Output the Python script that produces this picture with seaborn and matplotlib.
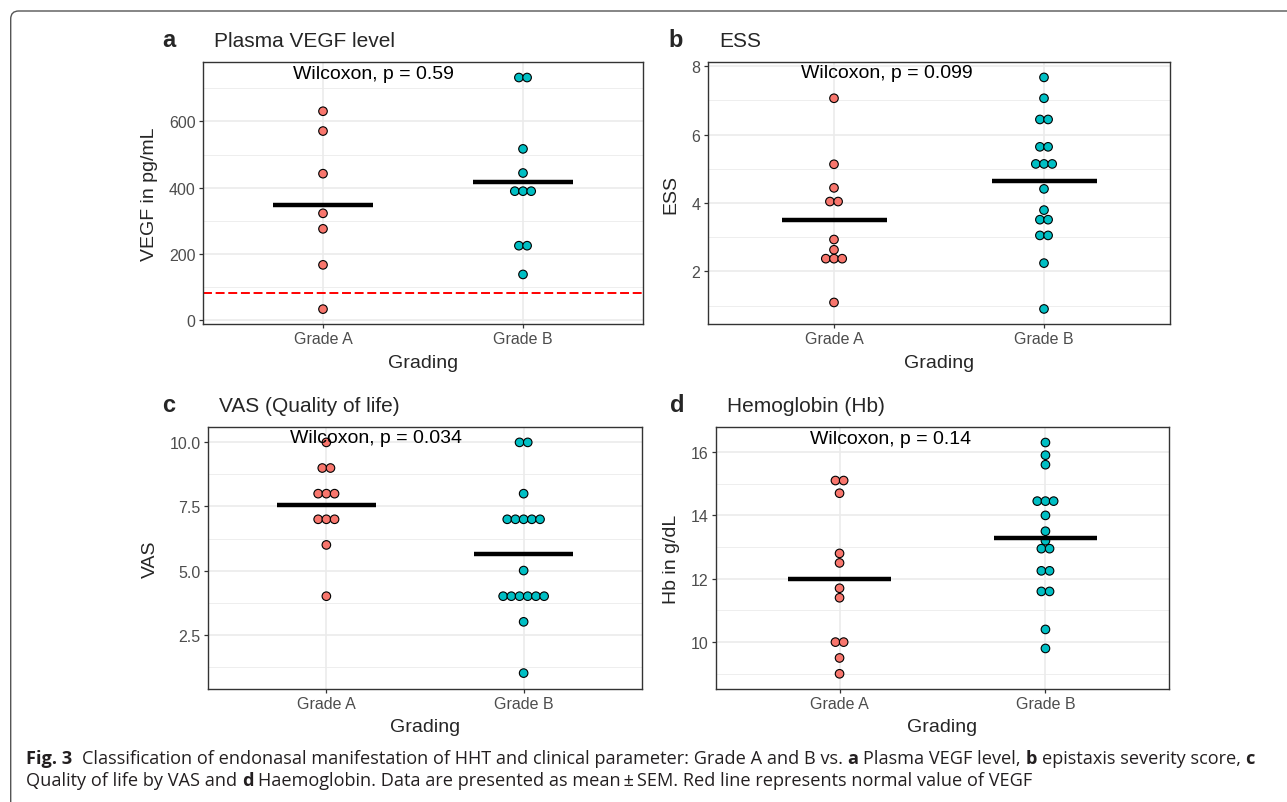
#!/usr/bin/env python3

import matplotlib
matplotlib.use("Agg")
import matplotlib.pyplot as plt
import numpy as np
import pandas as pd
import seaborn as sns
from matplotlib.patches import FancyBboxPatch
from matplotlib.transforms import IdentityTransform

groups = ["Grade A", "Grade B"]
colors = ["#F8766D", "#00BFC4"]

vegf_a = [631, 571, 442, 322, 275, 166, 32]
vegf_b = [733, 733, 517, 444, 389, 389, 389, 224, 224, 137]
ess_a = [7.06, 5.13, 4.44, 4.04, 4.04, 2.93, 2.63, 2.37, 2.37, 2.37, 1.09]
ess_b = [7.67, 7.06, 6.44, 6.44, 5.64, 5.64, 5.14, 5.14, 5.14, 4.41, 3.79,
         3.51, 3.51, 3.05, 3.05, 2.24, 0.90]
vas_a = [10, 9, 9, 8, 8, 8, 7, 7, 7, 6, 4]
vas_b = [10, 10, 8, 7, 7, 7, 7, 7, 5, 4, 4, 4, 4, 4, 4, 3, 1]
hb_a = [15.1, 15.1, 14.7, 12.8, 12.5, 11.7, 11.4, 10.0, 10.0, 9.5, 9.0]
hb_b = [16.3, 15.9, 15.6, 14.45, 14.45, 14.45, 14.0, 13.5, 13.2, 12.95, 12.95,
        12.25, 12.25, 11.6, 11.6, 10.4, 9.8]

p_labels = ["Wilcoxon, p = 0.59", "Wilcoxon, p = 0.099",
            "Wilcoxon, p = 0.034", "Wilcoxon, p = 0.14"]
vegf_normal = 80

W, H = 1287, 803
sns.set_style("white")
plt.rcParams["font.family"] = ["Liberation Sans", "DejaVu Sans"]

fig = plt.figure(figsize=(W / 100, H / 100), dpi=100)


def box(left, top, right, bottom):
    return [left / W, 1 - bottom / H, (right - left) / W, (bottom - top) / H]


def stack_offsets(values, step):
    # centre-stacked dots for tied values, like a dot plot
    values = np.asarray(values, dtype=float)
    out = np.zeros(len(values))
    for v in np.unique(values):
        idx = np.where(values == v)[0]
        n = len(idx)
        out[idx] = (np.arange(n) - (n - 1) / 2) * step
    return out


panels = [
    dict(letter="a", title="Plasma VEGF level", ylabel="VEGF in pg/mL",
         vals=(vegf_a, vegf_b), p=p_labels[0],
         ticks=[0, 200, 400, 600], labels=["0", "200", "400", "600"],
         minor=[100, 300, 500, 700], ylim=(-13, 780),
         rect=(203, 63, 643, 325), ylab_x=150, letter_x=162, title_x=214,
         base_y=47, xlab_y=363),
    dict(letter="b", title="ESS", ylabel="ESS",
         vals=(ess_a, ess_b), p=p_labels[1],
         ticks=[2, 4, 6, 8], labels=["2", "4", "6", "8"],
         minor=[1, 3, 5, 7], ylim=(0.46, 8.12),
         rect=(708, 63, 1170, 325), ylab_x=671, letter_x=668, title_x=719,
         base_y=47, xlab_y=363),
    dict(letter="c", title="VAS (Quality of life)", ylabel="VAS",
         vals=(vas_a, vas_b), p=p_labels[2],
         ticks=[2.5, 5, 7.5, 10], labels=["2.5", "5.0", "7.5", "10.0"],
         minor=[1.25, 3.75, 6.25, 8.75], ylim=(0.38, 10.6),
         rect=(208, 428, 642, 690), ylab_x=150, letter_x=162, title_x=219,
         base_y=412, xlab_y=728),
    dict(letter="d", title="Hemoglobin (Hb)", ylabel="Hb in g/dL",
         vals=(hb_a, hb_b), p=p_labels[3],
         ticks=[10, 12, 14, 16], labels=["10", "12", "14", "16"],
         minor=[9, 11, 13, 15], ylim=(8.52, 16.79),
         rect=(716, 428, 1169, 690), ylab_x=671, letter_x=670, title_x=727,
         base_y=412, xlab_y=728),
]

for pn in panels:
    left, top, right, bottom = pn["rect"]
    ax = fig.add_axes(box(left, top, right, bottom))
    step = 8.2 / ((right - left) / 2.2)

    frames = []
    for i, (g, v) in enumerate(zip(groups, pn["vals"])):
        frames.append(pd.DataFrame({
            "Grading": g,
            "value": v,
            "x": i + stack_offsets(v, step),
        }))
    df = pd.concat(frames, ignore_index=True)

    ax.set_axisbelow(True)
    ax.grid(which="major", color="#EBEBEB", linewidth=1.2)
    ax.yaxis.set_minor_locator(matplotlib.ticker.FixedLocator(pn["minor"]))
    ax.grid(which="minor", axis="y", color="#EBEBEB", linewidth=0.6)

    if pn["letter"] == "a":
        ax.axhline(vegf_normal, color="#FF0000", linewidth=1.4,
                   linestyle=(0, (4.6, 1.9)), zorder=2)

    sns.scatterplot(data=df, x="x", y="value", hue="Grading", palette=colors,
                    s=38, edgecolor="black", linewidth=0.8, legend=False,
                    ax=ax, zorder=3)

    for i, v in enumerate(pn["vals"]):
        ax.hlines(np.mean(v), i - 0.25, i + 0.25, color="black",
                  linewidth=3.2, zorder=4)

    all_vals = list(pn["vals"][0]) + list(pn["vals"][1])
    ax.text(0.25, max(all_vals), pn["p"], ha="center", va="baseline",
            fontsize=14, color="black", zorder=5)

    ax.set_xlim(-0.6, 1.6)
    ax.set_ylim(*pn["ylim"])
    ax.set_xticks([0, 1])
    ax.set_xticklabels(groups)
    ax.set_yticks(pn["ticks"])
    ax.set_yticklabels(pn["labels"])
    ax.set_xlabel("")
    ax.set_ylabel("")
    ax.tick_params(which="major", length=2.9, width=0.9, color="#333333",
                   labelsize=11.5, labelcolor="#4D4D4D", pad=2.5,
                   bottom=True, left=True)
    ax.tick_params(which="minor", length=0)
    for sp in ax.spines.values():
        sp.set_color("#333333")
        sp.set_linewidth(1.0)

    fig.text(pn["ylab_x"] / W, 1 - (top + bottom) / 2 / H, pn["ylabel"],
             rotation=90, ha="center", va="center", fontsize=14)
    fig.text((left + right) / 2 / W, 1 - pn["xlab_y"] / H, "Grading",
             ha="center", va="center", fontsize=14)
    fig.text(pn["letter_x"] / W, 1 - pn["base_y"] / H, pn["letter"],
             ha="left", va="baseline", fontsize=17, fontweight="bold")
    fig.text(pn["title_x"] / W, 1 - pn["base_y"] / H, pn["title"],
             ha="left", va="baseline", fontsize=15)

# outer frame (top and left edges with rounded corner)
frame = FancyBboxPatch((10.7, -100), 4000, H - 12 + 100,
                       boxstyle="round,pad=0,rounding_size=8",
                       transform=IdentityTransform(), facecolor="none",
                       edgecolor="#555555", linewidth=1.0)
fig.add_artist(frame)

# caption with bold runs
cap_font = ["Open Sans", "DejaVu Sans"]
renderer = fig.canvas.get_renderer()


def run_width(text, size, weight):
    t1 = fig.text(0, 0, "|" + text + "|", fontsize=size, fontweight=weight,
                  family=cap_font)
    t2 = fig.text(0, 0, "||", fontsize=size, fontweight=weight,
                  family=cap_font)
    w = (t1.get_window_extent(renderer).width
         - t2.get_window_extent(renderer).width)
    t1.remove()
    t2.remove()
    return w


line1 = [("Fig. 3", "bold"),
         ("  Classification of endonasal manifestation of HHT and clinical "
          "parameter: Grade A and B vs. ", "normal"),
         ("a", "bold"), (" Plasma VEGF level, ", "normal"),
         ("b", "bold"), (" epistaxis severity score, ", "normal"),
         ("c", "bold")]
line2 = [("Quality of life by VAS and ", "normal"), ("d", "bold"),
         (" Haemoglobin. Data are presented as mean\u2009\u00b1\u2009SEM. "
          "Red line represents normal value of VEGF", "normal")]

base = 10.0
w1 = sum(run_width(t, base, wt) for t, wt in line1)
cap_size = base * (1252 - 26) / w1


def draw_runs(runs, x, y):
    for text, wt in runs:
        lead = len(text) - len(text.lstrip(" "))
        dx = run_width(text[:lead], cap_size, wt) if lead else 0
        fig.text((x + dx) / W, 1 - y / H, text.strip(" "), fontsize=cap_size,
                 fontweight=wt, family=cap_font, ha="left", va="baseline",
                 color="#231F20")
        x += run_width(text, cap_size, wt)


draw_runs(line1, 26, 764)
draw_runs(line2, 26, 786)

plt.savefig("out.png", dpi=100)
